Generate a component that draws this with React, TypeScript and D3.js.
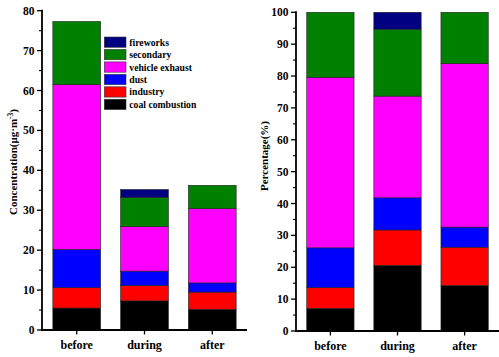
import React from "react";
import * as d3 from "d3";

const categories = ["before", "during", "after"];
const sources = ["coal combustion", "industry", "dust", "vehicle exhaust", "secondary", "fireworks"];
const colors = ["#000000", "#ff0000", "#0000ff", "#ff00ff", "#008000", "#000080"];

// Concentration (µg·m-3), component values per category
const concCoal = [5.5, 7.3, 5.2];
const concIndustry = [5.1, 3.8, 4.3];
const concDust = [9.6, 3.65, 2.3];
const concVehicle = [41.3, 11.15, 18.6];
const concSecondary = [15.8, 7.35, 5.85];
const concFireworks = [0, 1.95, 0];

// Percentage (%), component values per category
const pctCoal = [7.1, 20.6, 14.3];
const pctIndustry = [6.5, 11.1, 12.0];
const pctDust = [12.5, 10.1, 6.3];
const pctVehicle = [53.5, 31.9, 51.3];
const pctSecondary = [20.4, 21.0, 16.1];
const pctFireworks = [0, 5.3, 0];

const concTicks = [0, 10, 20, 30, 40, 50, 60, 70, 80];
const pctTicks = [0, 10, 20, 30, 40, 50, 60, 70, 80, 90, 100];

const FONT = "'Liberation Serif', 'Times New Roman', serif";

function buildRows(series: number[][]) {
  return categories.map((c, i) => {
    const r: any = { cat: c };
    sources.forEach((s, j) => (r[s] = series[j][i]));
    return r;
  });
}

type PanelProps = {
  series: number[][];
  yMax: number;
  ticks: number[];
  x0: number;
  x1: number;
  y0: number;
  y1: number;
  title: React.ReactNode;
  titleX: number;
  titleY: number;
};

function Panel({ series, yMax, ticks, x0, x1, y0, y1, title, titleX, titleY }: PanelProps) {
  const rows = buildRows(series);
  const stacked = d3.stack<any>().keys(sources)(rows);
  const x = d3.scaleBand<string>().domain(categories).range([x0, x1]).paddingInner(0.295).paddingOuter(0.16);
  const y = d3.scaleLinear().domain([0, yMax]).range([y0, y1]);
  const minor = d3.range(5, yMax, 10);
  return (
    <g>
      {stacked.map((layer, li) =>
        layer.map((d, i) => {
          const h = y(d[0]) - y(d[1]);
          if (h <= 0) return null;
          return (
            <rect
              key={`${li}-${i}`}
              x={x(categories[i])!}
              y={y(d[1])}
              width={x.bandwidth()}
              height={h}
              fill={colors[li]}
              stroke="#222"
              strokeWidth={0.6}
            />
          );
        })
      )}
      {/* y axis */}
      <line x1={x0} x2={x0} y1={y0 + 1} y2={y1 - 1} stroke="#000" strokeWidth={1.8} />
      {ticks.map((t) => (
        <g key={t}>
          <line x1={x0 - 5} x2={x0} y1={y(t)} y2={y(t)} stroke="#000" strokeWidth={1.3} />
          <text
            x={x0 - 7.5}
            y={y(t)}
            dy="0.35em"
            textAnchor="end"
            fontFamily={FONT}
            fontWeight="bold"
            fontSize={11.5}
          >
            {t}
          </text>
        </g>
      ))}
      {minor.map((t) => (
        <line key={"m" + t} x1={x0 - 3} x2={x0} y1={y(t)} y2={y(t)} stroke="#000" strokeWidth={1.1} />
      ))}
      {/* x axis */}
      <line x1={x0 - 1} x2={x1} y1={y0} y2={y0} stroke="#000" strokeWidth={1.8} />
      {categories.map((c) => {
        const cx = x(c)! + x.bandwidth() / 2;
        return (
          <g key={c}>
            <line x1={cx} x2={cx} y1={y0} y2={y0 + 4.5} stroke="#000" strokeWidth={1.3} />
            <text x={cx} y={y0 + 19} textAnchor="middle" fontFamily={FONT} fontWeight="bold" fontSize={12}>
              {c}
            </text>
          </g>
        );
      })}
      <text
        transform={`translate(${titleX},${titleY}) rotate(-90)`}
        textAnchor="middle"
        fontFamily={FONT}
        fontWeight="bold"
        fontSize={11}
      >
        {title}
      </text>
    </g>
  );
}

export default function App() {
  const concSeries = [concCoal, concIndustry, concDust, concVehicle, concSecondary, concFireworks];
  const pctSeries = [pctCoal, pctIndustry, pctDust, pctVehicle, pctSecondary, pctFireworks];
  const legendOrder = [5, 4, 3, 2, 1, 0];
  return (
    <svg
      width={499}
      height={357}
      style={{ position: "absolute", left: 0, top: 0, background: "#fff" }}
    >
      <rect width={499} height={357} fill="#fff" />
      <Panel
        series={concSeries}
        yMax={80}
        ticks={concTicks}
        x0={42}
        x1={247}
        y0={330}
        y1={10.7}
        titleX={16.5}
        titleY={162}
        title={
          <>
            Concentration(μg·m
            <tspan dy={-4} fontSize={7.5}>
              -3
            </tspan>
            <tspan dy={4}>)</tspan>
          </>
        }
      />
      <Panel
        series={pctSeries}
        yMax={100}
        ticks={pctTicks}
        x0={296}
        x1={499}
        y0={331}
        y1={12.3}
        titleX={268}
        titleY={156}
        title="Percentage(%)"
      />
      <g>
        {legendOrder.map((si, i) => (
          <g key={si} transform={`translate(104.3,${37.0 + i * 12.45})`}>
            <rect width={21.7} height={10.3} fill={colors[si]} stroke="#333" strokeWidth={0.6} />
            <text x={25} y={5.2} dy="0.35em" fontFamily={FONT} fontWeight="bold" fontSize={9.7}>
              {sources[si]}
            </text>
          </g>
        ))}
      </g>
    </svg>
  );
}
